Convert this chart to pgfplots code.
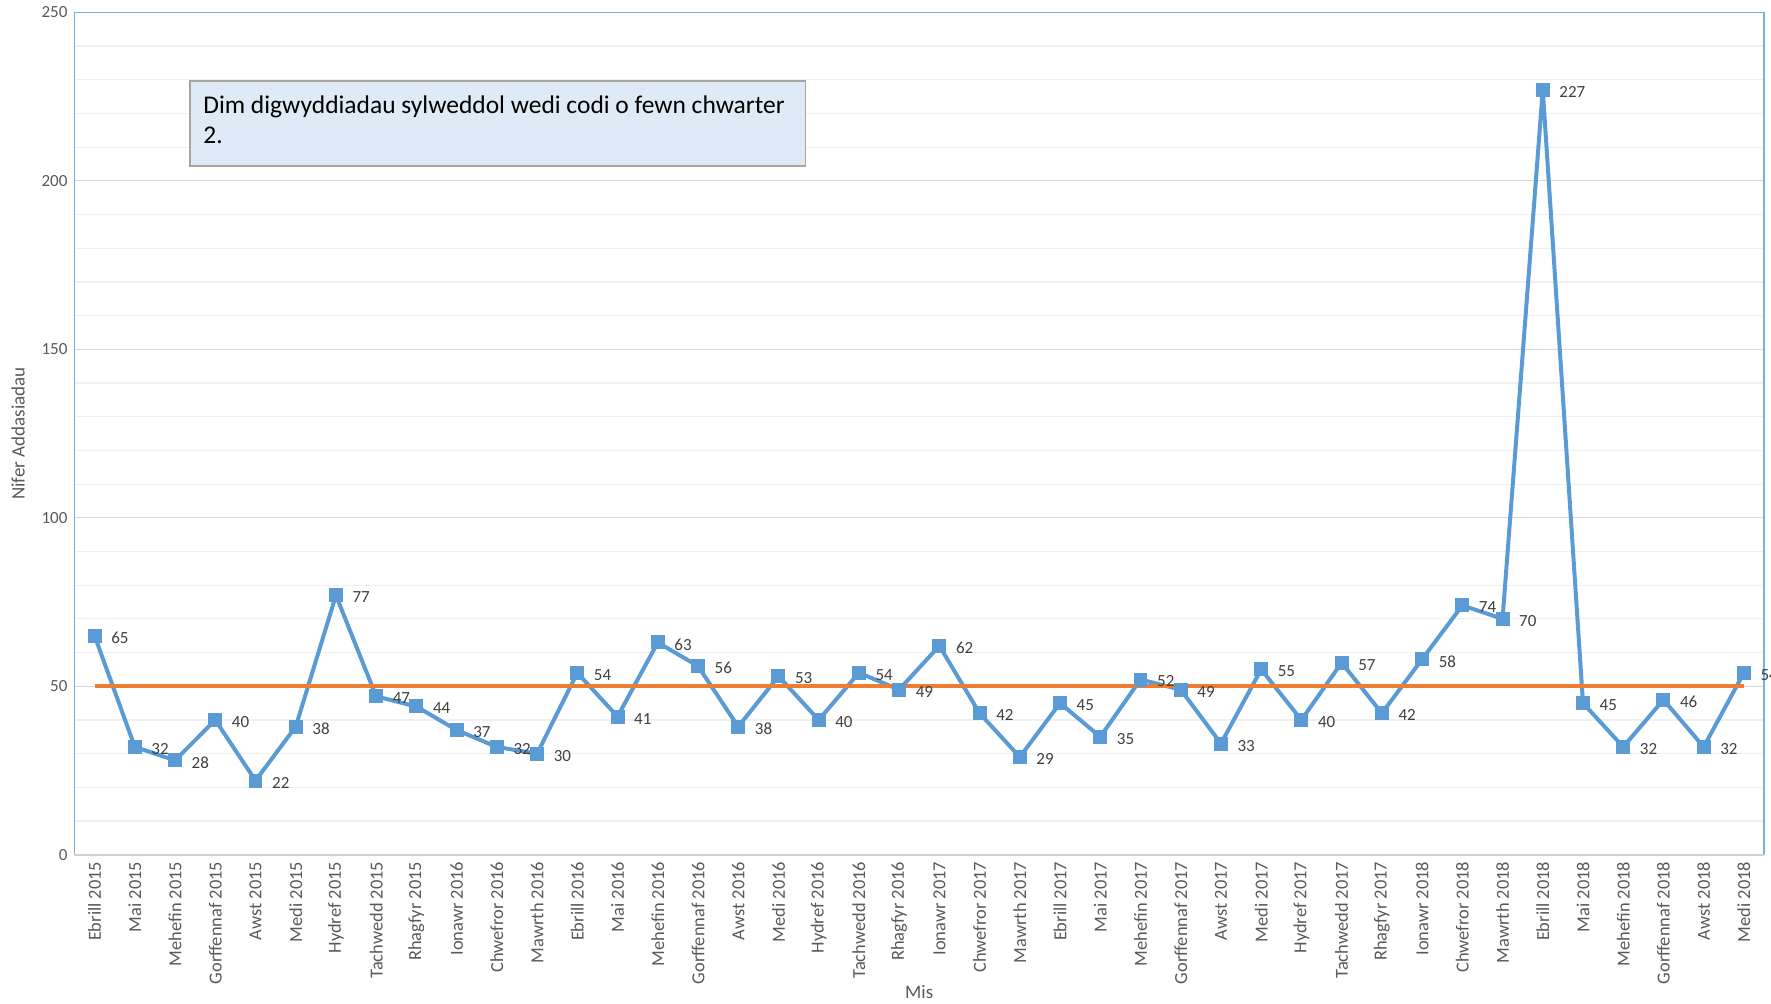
\documentclass[border=0pt]{standalone}
\usepackage{pgfplots}
\pgfplotsset{compat=1.18}
\usepackage{fontspec}
\setmainfont{Carlito}
\definecolor{xlblue}{HTML}{5B9BD5}
\definecolor{xlorange}{HTML}{ED7D31}
\definecolor{boxfill}{HTML}{DEEBF7}
\definecolor{boxline}{HTML}{A5A5A5}
\definecolor{ticktext}{HTML}{595959}
\definecolor{labeltext}{HTML}{404040}
\begin{document}
\begin{tikzpicture}
\begin{axis}[
  at={(0,0)}, anchor=south west,
  scale only axis, width=845pt, height=421.3pt,
  xmin=-0.5, xmax=41.5, ymin=0, ymax=250,
  clip=false,
  /pgf/number format/assume math mode=true,
  font=\fontsize{8.5}{10}\selectfont,
  ytick={0,50,...,250}, minor y tick num=4,
  ymajorgrids, yminorgrids,
  major grid style={draw=black!15, line width=0.6pt},
  minor grid style={draw=black!6, line width=0.6pt},
  major tick length=0pt, minor tick length=0pt,
  axis line style={draw=xlblue!80, line width=0.6pt},
  xtick=data,
  xticklabels={Ebrill 2015,Mai 2015,Mehefin 2015,Gorffennaf 2015,Awst 2015,Medi 2015,Hydref 2015,Tachwedd 2015,Rhagfyr 2015,
    Ionawr 2016,Chwefror 2016,Mawrth 2016,Ebrill 2016,Mai 2016,Mehefin 2016,Gorffennaf 2016,Awst 2016,Medi 2016,Hydref 2016,Tachwedd 2016,Rhagfyr 2016,
    Ionawr 2017,Chwefror 2017,Mawrth 2017,Ebrill 2017,Mai 2017,Mehefin 2017,Gorffennaf 2017,Awst 2017,Medi 2017,Hydref 2017,Tachwedd 2017,Rhagfyr 2017,
    Ionawr 2018,Chwefror 2018,Mawrth 2018,Ebrill 2018,Mai 2018,Mehefin 2018,Gorffennaf 2018,Awst 2018,Medi 2018},
  xticklabel style={rotate=90, anchor=east, text=ticktext, font=\fontsize{9.2}{10}\selectfont},
  yticklabel style={text=ticktext},
  xlabel={Mis}, ylabel={Nifer Addasiadau},
  xlabel style={at={(axis description cs:0.5,0)}, anchor=center, yshift=-68.5pt, text=ticktext, font=\fontsize{9.5}{11}\selectfont},
  ylabel style={at={(axis description cs:0,0.5)}, anchor=center, yshift=28.25pt, text=ticktext, font=\fontsize{9.5}{11}\selectfont},
]
\addplot[xlblue, line width=2pt, mark=square*, mark size=2.5pt,
  nodes near coords,
  every node near coord/.append style={anchor=west, xshift=4pt, yshift=-1pt, text=labeltext, font=\fontsize{8.5}{10}\selectfont}]
coordinates {
(0,65) (1,32) (2,28) (3,40) (4,22) (5,38) (6,77) (7,47) (8,44)
(9,37) (10,32) (11,30) (12,54) (13,41) (14,63) (15,56) (16,38) (17,53) (18,40) (19,54) (20,49)
(21,62) (22,42) (23,29) (24,45) (25,35) (26,52) (27,49) (28,33) (29,55) (30,40) (31,57) (32,42)
(33,58) (34,74) (35,70) (36,227) (37,45) (38,32) (39,46) (40,32) (41,54)
};
\addplot[xlorange, line width=2pt, no marks] coordinates {(0,50) (41,50)};
\draw[black!18, line width=1.2pt] (rel axis cs:0,0) -- (rel axis cs:1,0);
\end{axis}
% annotation box
\draw[draw=boxline, line width=0.6pt, fill=boxfill] (57.75pt,344.5pt) rectangle (365.75pt,387pt);
\node[anchor=north west, inner sep=0pt, align=left, font=\fontsize{12.75}{15.25}\selectfont, text=black]
  at (64.25pt,380pt) {Dim digwyddiadau sylweddol wedi codi o fewn chwarter\\2.};
\pgfresetboundingbox
\path[use as bounding box] (-37.25pt,-74.5pt) rectangle (848.5pt,427.5pt);
\end{tikzpicture}
\end{document}
